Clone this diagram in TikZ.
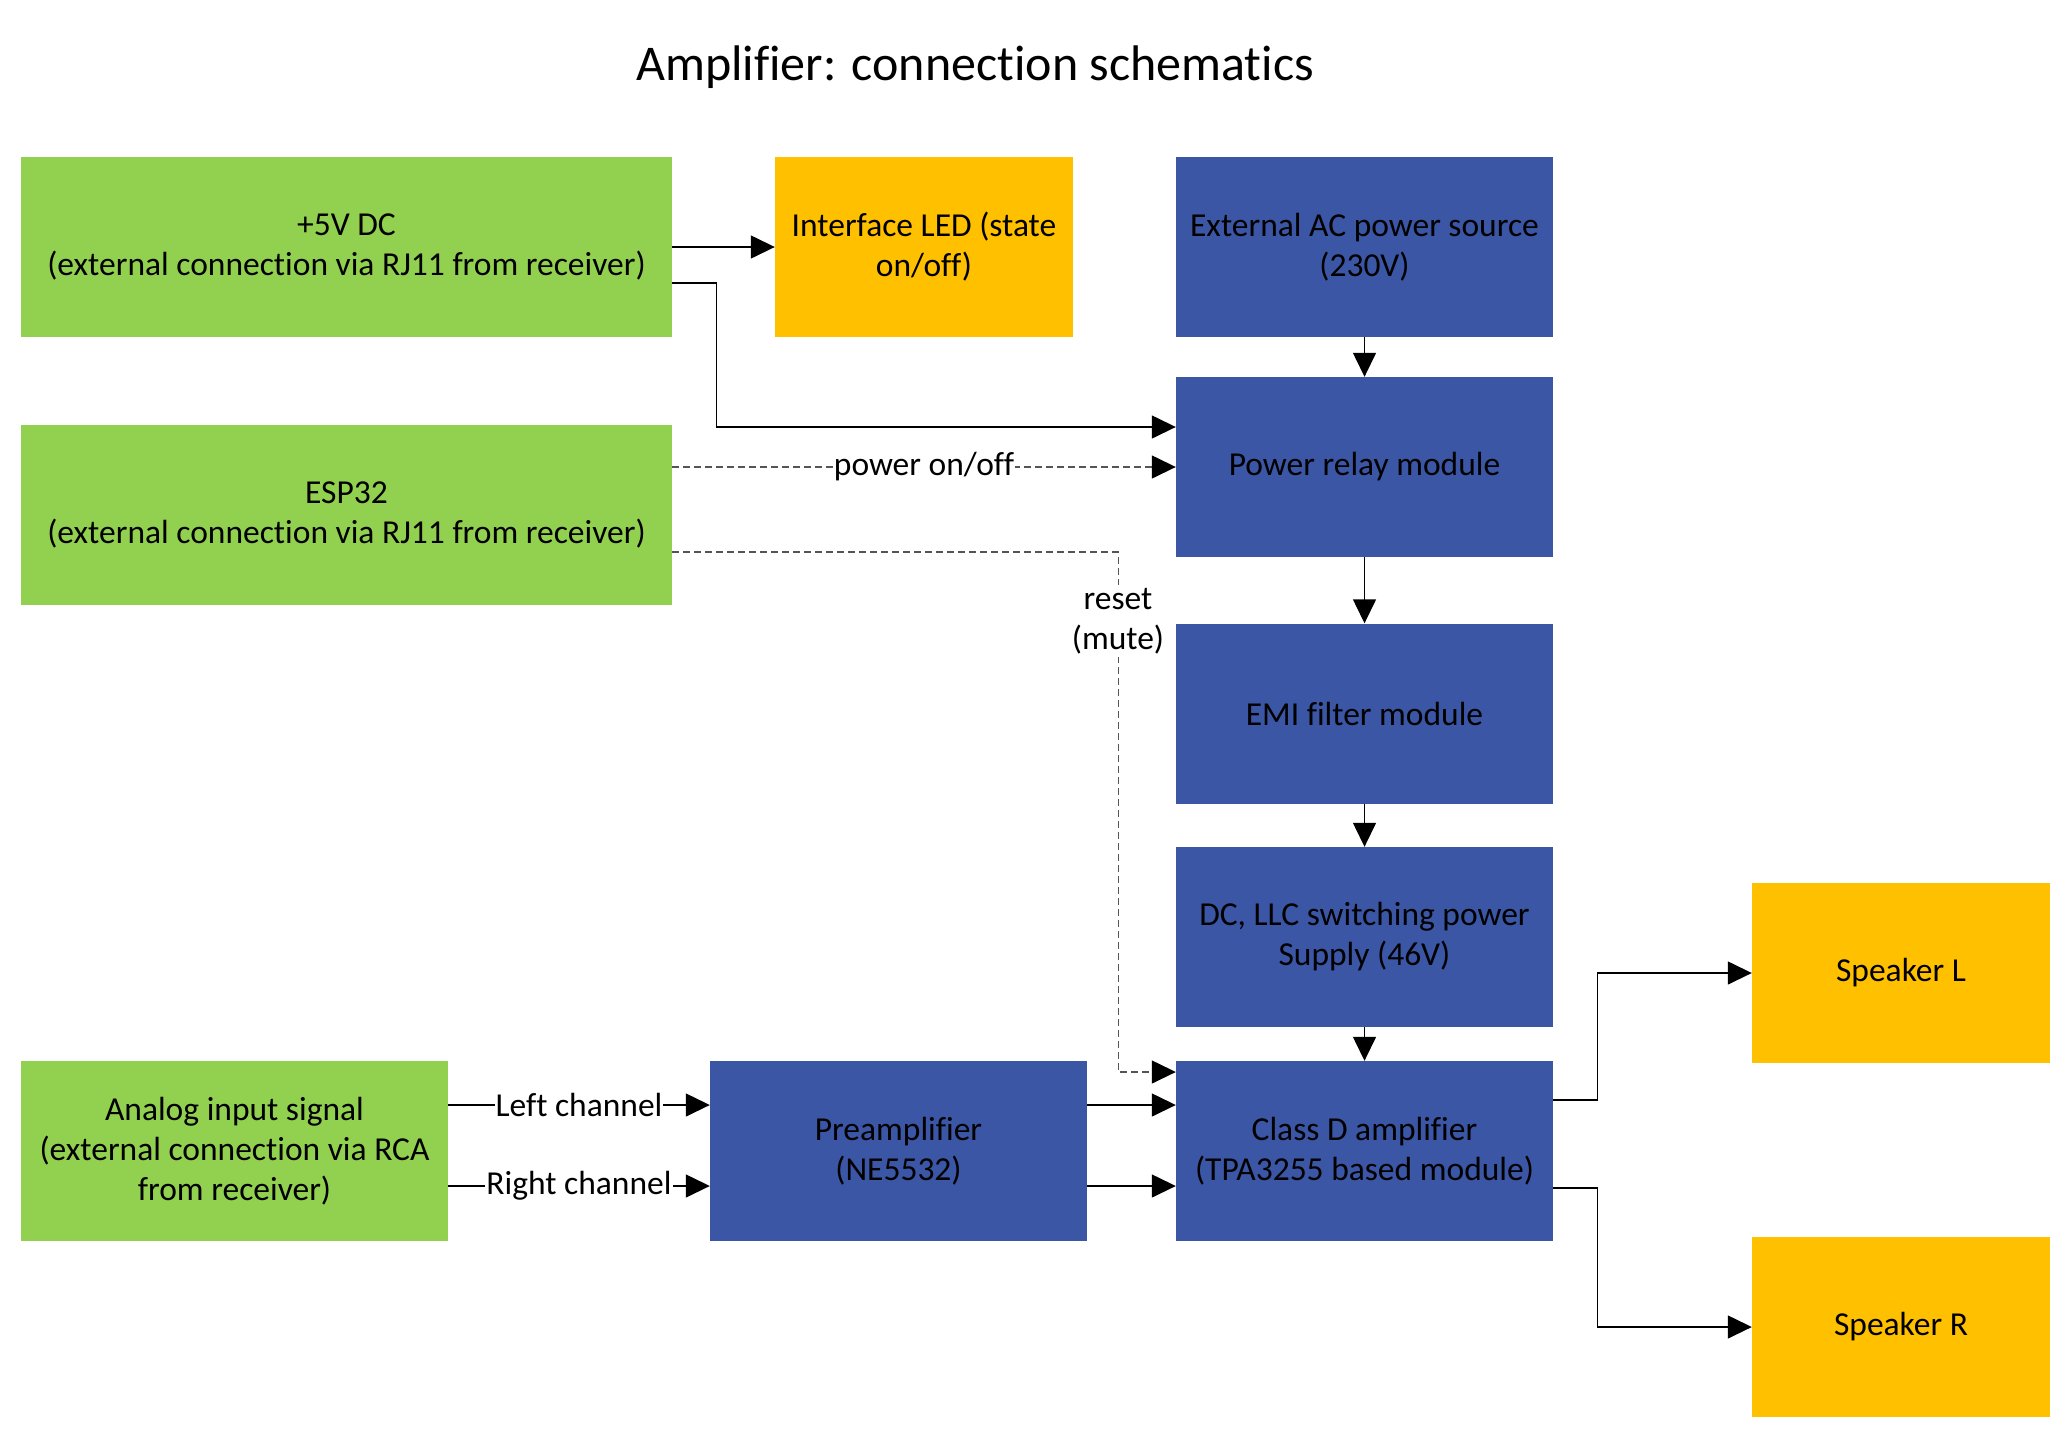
\documentclass[tikz,border=0pt]{standalone}
\usepackage{fontspec}
\setmainfont[Ligatures=NoCommon]{Carlito}
\usetikzlibrary{arrows.meta}
\definecolor{cgreen}{HTML}{92D050}
\definecolor{corange}{HTML}{FFC000}
\definecolor{cblue}{HTML}{3A56A5}
\definecolor{cdash}{HTML}{555555}
\tikzset{
  box/.style={draw=none, inner sep=4pt, align=center, minimum height=180pt, font=\fontsize{33.5}{40}\selectfont},
  gbox/.style={box, fill=cgreen},
  obox/.style={box, fill=corange},
  bbox/.style={box, fill=cblue},
  arr/.style={draw=black, line width=1.4pt, -{Triangle[length=24pt,width=23pt]}},
  darr/.style={draw=cdash, line width=1.4pt, dash pattern=on 7pt off 4pt, -{Triangle[length=24pt,width=23pt,fill=black,color=black]}},
  lbl/.style={fill=white, inner sep=1pt, align=center, font=\fontsize{33.5}{40}\selectfont},
}
\begin{document}
\begin{tikzpicture}[x=1pt, y=-1pt]
\useasboundingbox (0,0) rectangle (2071,1438);
\node[font=\fontsize{50}{58}\selectfont] (title) at (975,67) {Amplifier: connection schematics};

\node[gbox, minimum width=651pt] (p5) at (346.5,247) {+5V DC\\(external connection via RJ11 from receiver)};
\node[obox, minimum width=298pt] (led) at (924,247) {Interface LED (state\\on/off)};
\node[bbox, minimum width=377pt] (ac) at (1364.5,247) {External AC power source\\(230V)};
\node[bbox, minimum width=377pt] (relay) at (1364.5,467) {Power relay module};
\node[gbox, minimum width=651pt] (esp) at (346.5,515) {ESP32\\(external connection via RJ11 from receiver)};
\node[bbox, minimum width=377pt] (emi) at (1364.5,713.5) {EMI filter module};
\node[bbox, minimum width=377pt] (dc) at (1364.5,937) {DC, LLC switching power\\Supply (46V)};
\node[obox, minimum width=298pt] (spkl) at (1901,973) {Speaker L};
\node[gbox, minimum width=427pt] (analog) at (234.5,1151) {Analog input signal\\(external connection via RCA\\from receiver)};
\node[bbox, minimum width=377pt] (pre) at (898.5,1151) {Preamplifier\\(NE5532)};
\node[bbox, minimum width=377pt] (cd) at (1364.5,1151) {Class D amplifier\\(TPA3255 based module)};
\node[obox, minimum width=298pt] (spkr) at (1901,1327) {Speaker R};

% connectors
\draw[arr] (p5.east) -- (led.west);
\draw[arr] ([yshift=-36pt]p5.east) -- ++(44,0) |- ([yshift=40pt]relay.west);
\draw[darr] ([yshift=48pt]esp.east) -- node[lbl] (pwr) {power on/off} (relay.west);
\draw[darr] ([yshift=-37pt]esp.east) -- ++(446,0) |- ([yshift=79pt]cd.west);
\node[lbl, inner sep=3pt] (reset) at (1118,621) {reset\\(mute)};
\draw[arr] (ac) -- (relay);
\draw[arr] (relay) -- (emi);
\draw[arr] (emi) -- (dc);
\draw[arr] (dc) -- (cd);
\draw[arr] ([yshift=46pt]analog.east) -- node[lbl] (lch) {Left channel} ([yshift=46pt]pre.west);
\draw[arr] ([yshift=-35pt]analog.east) -- node[lbl] (rch) {Right channel} ([yshift=-35pt]pre.west);
\draw[arr] ([yshift=46pt]pre.east) -- ([yshift=46pt]cd.west);
\draw[arr] ([yshift=-35pt]pre.east) -- ([yshift=-35pt]cd.west);
\draw[arr] ([yshift=51pt]cd.east) -- ++(44,0) |- (spkl.west);
\draw[arr] ([yshift=-37pt]cd.east) -- ++(44,0) |- (spkr.west);
\end{tikzpicture}
\end{document}
